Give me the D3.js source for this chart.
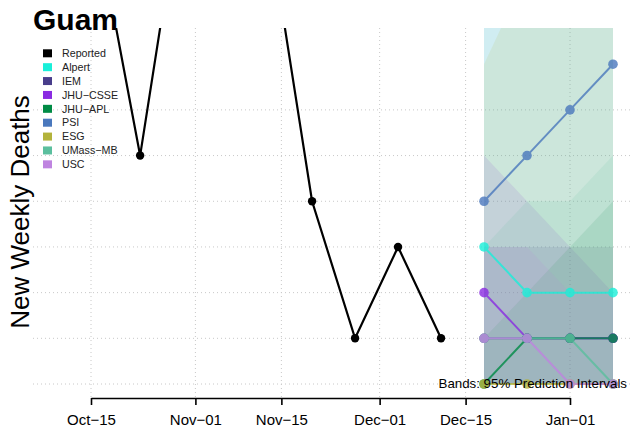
<!DOCTYPE html>
<html>
<head>
<meta charset="utf-8">
<script src="https://cdn.jsdelivr.net/npm/d3@7"></script>
<style>
  body { margin: 0; background: #fff; }
  text { font-family: "Liberation Sans", Arial, sans-serif; }
</style>
</head>
<body>
<div id="chart"></div>
<script>
// ---- data ----
var reportedDates = ["2020-10-16", "2020-10-23", "2020-10-30", "2020-11-06", "2020-11-13",
                     "2020-11-20", "2020-11-27", "2020-12-04", "2020-12-11"];
var reportedDeaths = [10, 5, 11, 12, 10, 4, 1, 3, 1];

var forecastDates = ["2020-12-18", "2020-12-25", "2021-01-01", "2021-01-08"];
var models = ["Alpert", "IEM", "JHU\u2212CSSE", "JHU\u2212APL", "PSI", "ESG", "UMass\u2212MB", "USC"];

// point forecasts, one row per model (same order as models)
var medians = [
  [3, 2, 2, 2],   // Alpert
  [1, 1, 1, 1],   // IEM
  [2, 1, 1, 1],   // JHU-CSSE
  [0, 1, 1, 1],   // JHU-APL
  [4, 5, 6, 7],   // PSI
  [0, 0, 0, 0],   // ESG
  [1, 1, 1, 0],   // UMass-MB
  [1, 1, 0, 0]    // USC
];
// 95% prediction intervals
var lower95 = [
  [0, 0, 0, 0],
  [0, 0, 0, 0],
  [0, 0, 0, 0],
  [0, 0, 0, 0],
  [0, 0, 0, 0],
  [0, 0, 0, 0],
  [0, 0, 0, 0],
  [0, 0, 0, 0]
];
var upper95 = [
  [12, 13, 14, 15],
  [3, 3, 3, 3],
  [5, 4, 3, 2],
  [1, 2, 3, 4],
  [12, 14, 16, 18],
  [7, 9, 11, 13],
  [3, 4, 4, 5],
  [3, 3, 2, 2]
];

var tickDates = ["2020-10-15", "2020-11-01", "2020-11-15", "2020-12-01", "2020-12-15", "2021-01-01"];
var tickLabels = ["Oct\u221215", "Nov\u221201", "Nov\u221215", "Dec\u221201", "Dec\u221215", "Jan\u221201"];
var gridValues = [0, 1, 2, 3, 4, 5, 6];

// ---- styles ----
var modelColors = ["#19EFD9", "#483D8B", "#8A2BE2", "#008B45", "#4A78BD", "#B3B33B", "#5BBF9E", "#BF84E0"];

var margin = {top: 28, right: 0, bottom: 37, left: 33};
var W = 631, H = 435;
var width = W - margin.left - margin.right;
var height = H - margin.top - margin.bottom;

var parse = d3.utcParse("%Y-%m-%d");

var svg = d3.select("#chart")
  .append("svg")
    .attr("width", W)
    .attr("height", H);

var g = svg.append("g")
  .attr("transform", "translate(" + margin.left + "," + margin.top + ")");

// scales
var x = d3.scaleUtc()
  .domain([parse(tickDates[0]), parse(tickDates[tickDates.length - 1])])
  .range([58, 537]);
var y = d3.scaleLinear()
  .domain([0, 7])
  .range([356, 36.2]);

g.append("clipPath").attr("id", "plotclip")
  .append("rect")
    .attr("x", 0).attr("y", 0)
    .attr("width", width).attr("height", height);

// grid
var grid = g.append("g").attr("stroke", "#c8c8c8").attr("stroke-dasharray", "1,3");
grid.selectAll("line.h")
  .data(gridValues)
  .enter().append("line")
    .attr("x1", 0).attr("x2", width)
    .attr("y1", function(d) { return y(d); })
    .attr("y2", function(d) { return y(d); });
grid.selectAll("line.v")
  .data(tickDates)
  .enter().append("line")
    .attr("y1", 0).attr("y2", height)
    .attr("x1", function(d) { return x(parse(d)); })
    .attr("x2", function(d) { return x(parse(d)); });

var plot = g.append("g").attr("clip-path", "url(#plotclip)");

// prediction bands
var band = d3.area()
  .x(function(d) { return x(d.date); })
  .y0(function(d) { return y(d.lo); })
  .y1(function(d) { return y(d.hi); });

models.forEach(function(m, i) {
  var rows = forecastDates.map(function(d, j) {
    return {date: parse(d), lo: lower95[i][j], hi: upper95[i][j]};
  });
  plot.append("path")
    .attr("d", band(rows))
    .attr("fill", modelColors[i])
    .attr("fill-opacity", 0.12);
});

// reported series
var line = d3.line()
  .x(function(d) { return x(d.date); })
  .y(function(d) { return y(d.v); });

var reported = reportedDates.map(function(d, i) { return {date: parse(d), v: reportedDeaths[i]}; });
plot.append("path")
  .attr("d", line(reported))
  .attr("fill", "none")
  .attr("stroke", "#000")
  .attr("stroke-width", 2.2);
plot.selectAll("circle.rep")
  .data(reported)
  .enter().append("circle")
    .attr("cx", function(d) { return x(d.date); })
    .attr("cy", function(d) { return y(d.v); })
    .attr("r", 4.2)
    .attr("fill", "#000");

// forecasts
models.forEach(function(m, i) {
  var pts = forecastDates.map(function(d, j) { return {date: parse(d), v: medians[i][j]}; });
  var grp = plot.append("g").attr("opacity", 0.8);
  grp.append("path")
    .attr("d", line(pts))
    .attr("fill", "none")
    .attr("stroke", modelColors[i])
    .attr("stroke-width", 2);
  grp.selectAll("circle")
    .data(pts)
    .enter().append("circle")
      .attr("cx", function(d) { return x(d.date); })
      .attr("cy", function(d) { return y(d.v); })
      .attr("r", 4.8)
      .attr("fill", modelColors[i]);
});

// x axis
var xAxis = d3.axisBottom(x)
  .tickValues(tickDates.map(parse))
  .tickFormat(function(d, i) { return tickLabels[i]; })
  .tickSize(7)
  .tickSizeOuter(0)
  .tickPadding(9);
var ax = g.append("g")
  .attr("transform", "translate(0," + height + ")")
  .call(xAxis);
ax.select(".domain").attr("stroke-width", 1.6);
ax.selectAll(".tick line").attr("stroke-width", 1.6);
ax.selectAll("text")
  .attr("font-size", 15)
  .attr("font-family", "Liberation Sans, Arial, sans-serif")
  .attr("fill", "#000");

// y label
svg.append("text")
  .attr("transform", "translate(29,212) rotate(-90)")
  .attr("text-anchor", "middle")
  .attr("font-size", 26)
  .text("New Weekly Deaths");

// legend
var legendNames = ["Reported"].concat(models);
var legendColors = ["#000"].concat(modelColors);
var legend = svg.append("g");
legendNames.forEach(function(name, i) {
  var cy = 53.3 + i * 13.88;
  legend.append("rect")
    .attr("x", 43).attr("y", cy - 4)
    .attr("width", 9).attr("height", 8)
    .attr("fill", legendColors[i]);
  legend.append("text")
    .attr("x", 62).attr("y", cy)
    .attr("dy", "0.35em")
    .attr("font-size", 10.7)
    .attr("fill", "#222")
    .text(name);
});

// title
svg.append("text")
  .attr("x", 33).attr("y", 30)
  .attr("font-size", 30)
  .attr("font-weight", "bold")
  .text("Guam");

svg.append("text")
  .attr("x", 627).attr("y", 388)
  .attr("text-anchor", "end")
  .attr("font-size", 13.3)
  .text("Bands: 95% Prediction Intervals");
</script>
</body>
</html>
